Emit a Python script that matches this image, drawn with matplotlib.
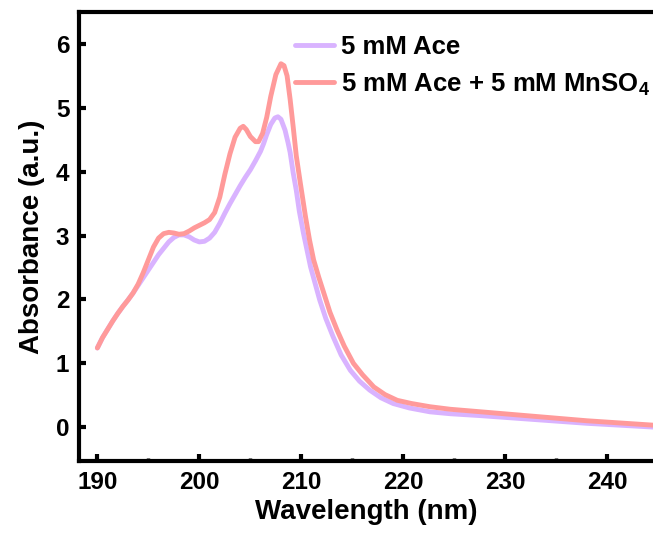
import matplotlib
matplotlib.use("Agg")
import matplotlib.pyplot as plt
from matplotlib.ticker import MultipleLocator

plt.rcParams['font.family'] = ['Liberation Sans', 'DejaVu Sans']
plt.rcParams['font.weight'] = 'bold'
plt.rcParams['mathtext.fontset'] = 'custom'
plt.rcParams['mathtext.bf'] = 'Liberation Sans:bold'
plt.rcParams['mathtext.rm'] = 'Liberation Sans:bold'
plt.rcParams['mathtext.default'] = 'bf'

# Series 1: 5 mM Ace
wl_ace = [190.0, 190.5, 191.0, 191.5, 192.0, 192.5, 193.0, 193.5, 194.0, 194.5,
          195.0, 195.5, 196.0, 196.5, 197.0, 197.5, 198.0, 198.5, 199.0, 199.5,
          200.0, 200.5, 201.0, 201.5, 202.0, 202.5, 203.0, 203.5, 204.0, 204.5,
          205.0, 205.5, 206.0, 206.3, 206.6, 207.0, 207.4, 207.7, 208.0, 208.4,
          208.7, 208.9, 209.2, 209.5, 209.8, 210.2, 210.9, 211.8, 212.4, 213.1,
          213.9, 214.8, 215.7, 216.7, 217.8, 219.0, 220.6, 222.6, 224.6, 227.6,
          232.8, 238.0, 244.6]
abs_ace = [1.24, 1.40, 1.53, 1.66, 1.78, 1.89, 1.99, 2.10, 2.22, 2.34,
           2.46, 2.58, 2.70, 2.80, 2.90, 2.97, 3.01, 3.01, 2.98, 2.93,
           2.90, 2.91, 2.96, 3.05, 3.19, 3.35, 3.50, 3.64, 3.78, 3.91,
           4.03, 4.17, 4.32, 4.44, 4.58, 4.74, 4.84, 4.86, 4.82, 4.65,
           4.45, 4.30, 3.98, 3.71, 3.38, 3.04, 2.51, 1.99, 1.70, 1.42,
           1.13, 0.89, 0.72, 0.58, 0.46, 0.37, 0.30, 0.24, 0.21, 0.18,
           0.12, 0.06, 0.00]

# Series 2: 5 mM Ace + 5 mM MnSO4
wl_mn = [190.0, 190.5, 191.0, 191.5, 192.0, 192.5, 193.0, 193.5, 194.0, 194.5,
         195.0, 195.5, 196.0, 196.5, 197.0, 197.5, 198.0, 198.5, 199.0, 199.5,
         200.0, 200.5, 201.0, 201.5, 202.0, 202.5, 203.0, 203.5, 204.0, 204.3,
         204.6, 205.0, 205.5, 205.8, 206.2, 206.6, 207.0, 207.5, 208.0, 208.3,
         208.6, 208.9, 209.2, 209.5, 209.9, 210.4, 210.8, 211.2, 211.7, 212.2,
         212.8, 213.5, 214.2, 215.1, 216.0, 217.1, 218.2, 219.4, 220.8, 222.6,
         224.6, 227.6, 232.8, 238.0, 244.6]
abs_mn = [1.24, 1.40, 1.53, 1.66, 1.78, 1.89, 1.99, 2.10, 2.24, 2.42,
          2.62, 2.82, 2.96, 3.03, 3.05, 3.04, 3.02, 3.03, 3.07, 3.12,
          3.16, 3.20, 3.25, 3.36, 3.60, 3.96, 4.28, 4.54, 4.68, 4.71,
          4.66, 4.55, 4.47, 4.47, 4.60, 4.85, 5.18, 5.52, 5.69, 5.66,
          5.50, 5.13, 4.70, 4.25, 3.82, 3.30, 2.93, 2.62, 2.35, 2.10,
          1.80, 1.52, 1.27, 1.00, 0.82, 0.63, 0.51, 0.42, 0.37, 0.32,
          0.28, 0.24, 0.17, 0.10, 0.03]

labels = ['5 mM Ace', '5 mM Ace + 5 mM MnSO$_4$']
colors = ['#D9B3FF', '#FF9A9A']

W, H = 653, 533
fig = plt.figure(figsize=(W / 100, H / 100), dpi=100)
ax = fig.add_axes([79 / W, 1 - 461 / H, 1 - 79 / W + 0.002, (461 - 12) / H])

ax.plot(wl_ace, abs_ace, color=colors[0], lw=3.5, label=labels[0],
        solid_joinstyle='round', solid_capstyle='round')
ax.plot(wl_mn, abs_mn, color=colors[1], lw=3.5, label=labels[1],
        solid_joinstyle='round', solid_capstyle='round')

ax.set_xlim(188.2, 244.6)
ax.set_ylim(-0.53, 6.5)
ax.xaxis.set_major_locator(MultipleLocator(10))
ax.xaxis.set_minor_locator(MultipleLocator(5))
ax.yaxis.set_major_locator(MultipleLocator(1))

for s in ['left', 'bottom', 'top']:
    ax.spines[s].set_linewidth(3.0)
ax.spines['right'].set_visible(False)

ax.tick_params(axis='both', which='major', direction='in', length=5, width=3,
               labelsize=17.5, pad=7)
ax.tick_params(axis='x', which='minor', direction='in', length=2.5, width=2.5)
ax.tick_params(top=False, right=False, which='both')

ax.set_xlabel('Wavelength (nm)', fontsize=20, fontweight='bold', labelpad=4)
ax.set_ylabel('Absorbance (a.u.)', fontsize=20, fontweight='bold', labelpad=8)

leg = ax.legend(loc='upper left', bbox_to_anchor=(295 / W, 1 - 35 / H),
                bbox_transform=fig.transFigure, frameon=False,
                prop={'size': 18.5, 'weight': 'bold'}, handlelength=1.5,
                handletextpad=0.3, labelspacing=0.48, borderpad=0, borderaxespad=0)

fig.savefig('out.png', dpi=100)
